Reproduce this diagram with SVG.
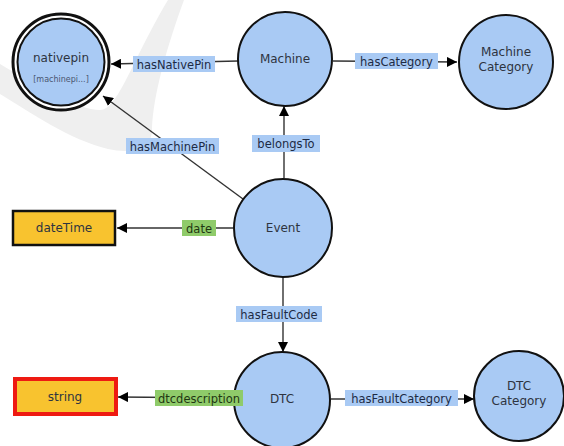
<svg xmlns="http://www.w3.org/2000/svg" width="564" height="446" viewBox="0 0 564 446">
<defs>
<marker id="arr" viewBox="0 0 10 10" refX="10" refY="5" markerWidth="10" markerHeight="10" markerUnits="userSpaceOnUse" orient="auto">
<path d="M0,0 L10,5 L0,10 Z" fill="#000"/>
</marker>
<style>
.node{fill:#A9CAF4;stroke:#111;stroke-width:2}
.lit{fill:#F8C32F;stroke:#111;stroke-width:2.5}
.lit2{fill:#F8C32F;stroke:#EE1A12;stroke-width:4}
.edge{stroke:#333;stroke-width:1.4;fill:none;marker-end:url(#arr)}
.lb{fill:#A9CAF4}
.lg{fill:#8FCB6A}
text{font-family:"DejaVu Sans","Liberation Sans",sans-serif;text-anchor:middle}
.nt{font-size:12px;fill:#2e3440}
.et{font-size:11.5px;fill:#1d2a44}
.gt{font-size:11.5px;fill:#1f3612}
.sm{font-size:8px;fill:#4a5670}
</style>
</defs>
<rect width="564" height="446" fill="#fff"/>
<path d="M168,0 L184,0 C162,60 152,105 152,132 C150,150 130,154 108,149 C70,140 30,112 0,94 L0,64 C40,88 78,110 100,110 C118,110 132,60 168,0 Z" fill="#efefef"/>
<g id="connectors">
<line class="edge" x1="238" y1="61" x2="111" y2="64"/>
<line class="edge" x1="333" y1="61" x2="457" y2="62"/>
<line class="edge" x1="284" y1="178" x2="284" y2="106"/>
<line class="edge" x1="243" y1="199" x2="103" y2="96"/>
<line class="edge" x1="233" y1="228" x2="117" y2="228"/>
<line class="edge" x1="283" y1="277" x2="283" y2="352"/>
<line class="edge" x1="233" y1="398" x2="118" y2="397"/>
<line class="edge" x1="331" y1="399" x2="474" y2="399"/>
</g>
<g id="nativepin">
<circle cx="61" cy="62" r="48" fill="#fff" stroke="#111" stroke-width="3"/>
<circle class="node" cx="61" cy="62" r="43.5"/>
<text class="nt" x="61" y="62" font-size="12.5">nativepin</text>
<text class="sm" x="61" y="82">[machinepi...]</text>
</g>
<g id="machine">
<circle class="node" cx="285" cy="59" r="47"/>
<text class="nt" x="285" y="63">Machine</text>
</g>
<g id="machinecategory">
<circle class="node" cx="506" cy="62" r="47"/>
<text class="nt" x="506" y="56">Machine</text>
<text class="nt" x="506" y="71">Category</text>
</g>
<g id="event">
<circle class="node" cx="283" cy="228" r="49"/>
<text class="nt" x="283" y="232">Event</text>
</g>
<g id="datetime">
<rect class="lit" x="13" y="211" width="102" height="34"/>
<text class="nt" x="64" y="232" fill="#222">dateTime</text>
</g>
<g id="dtc">
<circle class="node" cx="282" cy="400" r="48"/>
<text class="nt" x="282" y="403">DTC</text>
</g>
<g id="dtccategory">
<circle class="node" cx="519" cy="396" r="45"/>
<text class="nt" x="519" y="390">DTC</text>
<text class="nt" x="519" y="405">Category</text>
</g>
<g id="string">
<rect class="lit2" x="15" y="379" width="101" height="35"/>
<text class="nt" x="65" y="401" fill="#222">string</text>
</g>
<g id="edge-labels">
<rect class="lb" x="133" y="56" width="82" height="16"/>
<text class="et" x="174" y="68.5">hasNativePin</text>
<rect class="lb" x="355" y="53" width="83" height="16"/>
<text class="et" x="396.5" y="65.5">hasCategory</text>
<rect class="lb" x="252" y="135" width="68" height="17"/>
<text class="et" x="286" y="148">belongsTo</text>
<rect class="lb" x="126" y="138" width="93" height="16"/>
<text class="et" x="172.5" y="150.5">hasMachinePin</text>
<rect class="lg" x="182" y="220" width="34" height="16"/>
<text class="gt" x="199" y="232.5">date</text>
<rect class="lb" x="236" y="306" width="86" height="16"/>
<text class="et" x="279" y="318.5">hasFaultCode</text>
<rect class="lg" x="155" y="390" width="88" height="16"/>
<text class="gt" x="199" y="402.5">dtcdescription</text>
<rect class="lb" x="345" y="390" width="113" height="16"/>
<text class="et" x="401.5" y="402.5">hasFaultCategory</text>
</g>
</svg>
